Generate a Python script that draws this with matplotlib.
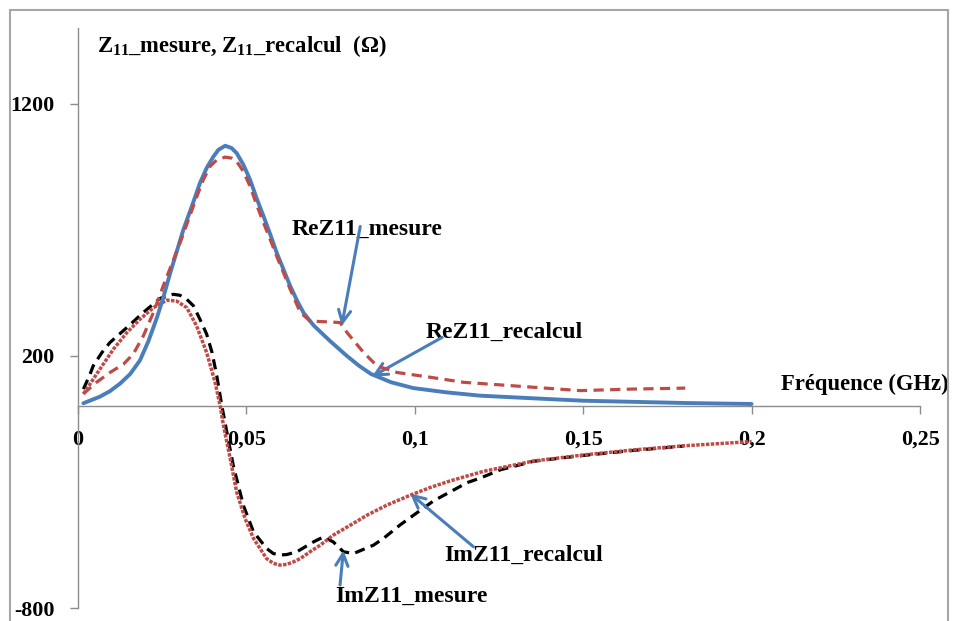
import matplotlib
matplotlib.use("Agg")
import matplotlib.pyplot as plt
from matplotlib.patches import Rectangle

plt.rcParams['font.family'] = ['Liberation Serif', 'DejaVu Serif']
plt.rcParams['font.weight'] = 'bold'
plt.rcParams['axes.unicode_minus'] = False
plt.rcParams['mathtext.fontset'] = 'custom'
plt.rcParams['mathtext.rm'] = 'Liberation Serif:bold'
plt.rcParams['mathtext.it'] = 'Liberation Serif:bold'
plt.rcParams['mathtext.bf'] = 'Liberation Serif:bold'

# ---- data (frequency in GHz, impedance in Ohm) ----
re_calc_x = [0.0016, 0.0065, 0.0095, 0.0125, 0.0155, 0.0184, 0.0209, 0.0234, 0.0253, 0.0273, 0.0313,
             0.0338, 0.0362, 0.0382, 0.0402, 0.0417, 0.0437, 0.0456, 0.0471, 0.0491, 0.0511,
             0.053, 0.0551, 0.0571, 0.059, 0.061, 0.063, 0.065, 0.067, 0.07, 0.0749,
             0.0798, 0.0835, 0.087, 0.093, 0.0996, 0.1095, 0.1194, 0.139, 0.15, 0.18, 0.2]
re_calc_y = [12, 38, 60, 90, 128, 182, 258, 350, 430, 525, 701,
             793, 885, 945, 990, 1017, 1033, 1024, 1004, 958, 898,
             826, 753, 681, 609, 543, 477, 420, 370, 320, 258,
             200, 160, 128, 95, 72, 55, 42, 29, 22, 13, 9]

re_mes_x = [0.0016, 0.0055, 0.0095, 0.0135, 0.0164, 0.0194, 0.0224, 0.0253, 0.0303, 0.0328,
            0.0353, 0.0372, 0.0392, 0.0412, 0.0437, 0.0456, 0.0471, 0.0491, 0.0511, 0.053,
            0.0551, 0.0571, 0.059, 0.061, 0.063, 0.066, 0.0689, 0.0749, 0.0778, 0.0799,
            0.0848, 0.0888, 0.0947, 0.1046, 0.1145, 0.1293, 0.1491, 0.164, 0.1803]
re_mes_y = [49, 95, 134, 167, 207, 279, 372, 477, 648, 740,
            832, 898, 951, 977, 988, 984, 971, 931, 872, 800,
            727, 660, 595, 530, 464, 372, 338, 334, 332, 292,
            213, 160, 134, 115, 95, 81, 62, 68, 72]

im_calc_x = [0.0016, 0.0065, 0.0105, 0.0145, 0.0184, 0.0224, 0.0264, 0.0293, 0.0323, 0.0352,
             0.0382, 0.0407, 0.0422, 0.0432, 0.0452, 0.0471, 0.0496, 0.0521, 0.056, 0.058,
             0.06, 0.062, 0.064, 0.066, 0.0689, 0.0719, 0.0758, 0.0808, 0.0858, 0.0917,
             0.0986, 0.1046, 0.1105, 0.1204, 0.1353, 0.1501, 0.165, 0.1798, 0.2]
im_calc_y = [49, 147, 226, 292, 345, 391, 421, 417, 391, 319,
             213, 95, 2, -77, -208, -340, -445, -524, -604, -623,
             -630, -627, -617, -604, -577, -551, -511, -472, -432, -392,
             -353, -322, -296, -258, -217, -193, -173, -157, -140]

im_mes_x = [0.0016, 0.0034, 0.0045, 0.0071, 0.0095, 0.0145, 0.0194, 0.0244, 0.0283, 0.0303,
            0.0323, 0.0343, 0.0362, 0.0382, 0.0398, 0.0412, 0.0427, 0.0442, 0.0461, 0.0491,
            0.0521, 0.056, 0.058, 0.06, 0.062, 0.065, 0.0699, 0.0729, 0.0758, 0.0788,
            0.0818, 0.0877, 0.0907, 0.0957, 0.1016, 0.1056, 0.1125, 0.1155, 0.1194, 0.1254,
            0.1353, 0.1501, 0.165, 0.1798]
im_mes_y = [68, 121, 160, 213, 253, 312, 372, 428, 444, 440,
            424, 398, 345, 286, 213, 121, 2, -103, -235, -393,
            -498, -564, -584, -590, -588, -577, -538, -518, -538, -577,
            -584, -551, -524, -470, -413, -375, -325, -303, -285, -252,
            -218, -195, -175, -158]

y_ticks = [-800, 200, 1200]
x_ticks = [0, 0.05, 0.1, 0.15, 0.2, 0.25]
x_tick_labels = ['0', '0,05', '0,1', '0,15', '0,2', '0,25']

BLUE = '#4A7EBB'
RED = '#BE4B48'
GRAY = '#8C8C8C'

fig = plt.figure(figsize=(9.6, 6.21), dpi=100)
ax = fig.add_axes([78/960, 1-608/621, (920-78)/960, (608-28)/621])

ax.plot(im_mes_x, im_mes_y, color='black', lw=2.3, linestyle=(0, (3.2, 2.0)), zorder=3)
ax.plot(im_calc_x, im_calc_y, color=RED, lw=2.5, linestyle=(0, (1.0, 0.4)), zorder=4)
ax.plot(re_calc_x, re_calc_y, color=BLUE, lw=2.8, solid_capstyle='round',
        solid_joinstyle='round', zorder=5)
ax.plot(re_mes_x, re_mes_y, color=RED, lw=2.3, linestyle=(0, (3.2, 2.0)), zorder=6)

ax.set_xlim(0, 0.25)
ax.set_ylim(-800, 1500)
ax.spines['top'].set_visible(False)
ax.spines['right'].set_visible(False)
ax.spines['bottom'].set_position(('data', 0))
for s in ('left', 'bottom'):
    ax.spines[s].set_color(GRAY)
    ax.spines[s].set_linewidth(1.0)
ax.spines['left'].set_bounds(-800, 1500)

ax.set_yticks(y_ticks)
ax.set_xticks(x_ticks)
ax.set_xticklabels(x_tick_labels)
ax.tick_params(axis='y', direction='out', length=6, width=1, color=GRAY, pad=11, labelsize=15.8)
ax.tick_params(axis='x', direction='out', length=6, width=1, color=GRAY, pad=11, labelsize=15.8)
for lab in ax.get_xticklabels() + ax.get_yticklabels():
    lab.set_fontweight('bold')

tkw = dict(fontsize=16.3, fontweight='bold', color='black')
ax.text(0.0056, 1428, 'Z$_{11}$_mesure, Z$_{11}$_recalcul  (\u03a9)', ha='left', va='center', **tkw)
ax.text(0.2585, 88, 'Fréquence (GHz)', ha='right', va='center', clip_on=False, **tkw)

akw = dict(fontsize=17, fontweight='bold', color='black')
aprops = dict(arrowstyle='->', color=BLUE, lw=2.2, mutation_scale=22, shrinkA=0, shrinkB=0)
ax.text(0.0859, 701, 'ReZ11_mesure', ha='center', va='center', **akw)
ax.annotate('', xy=(0.0783, 319), xytext=(0.0838, 713), arrowprops=aprops)
ax.text(0.1267, 294, 'ReZ11_recalcul', ha='center', va='center', **akw)
ax.annotate('', xy=(0.0873, 118), xytext=(0.1081, 273), arrowprops=aprops)
ax.text(0.1324, -592, 'ImZ11_recalcul', ha='center', va='center', **akw)
ax.annotate('', xy=(0.0986, -346), xytext=(0.1174, -557), arrowprops=aprops)
ax.text(0.0989, -754, 'ImZ11_mesure', ha='center', va='center', **akw)
ax.annotate('', xy=(0.0788, -571), xytext=(0.0778, -709), arrowprops=aprops)

fig.patches.append(Rectangle((10/960, -0.05), 938/960, (621-10)/621 + 0.05,
                             transform=fig.transFigure, fill=False,
                             edgecolor='#A6A6A6', lw=1.5, zorder=0))

fig.savefig('out.png', dpi=100)
